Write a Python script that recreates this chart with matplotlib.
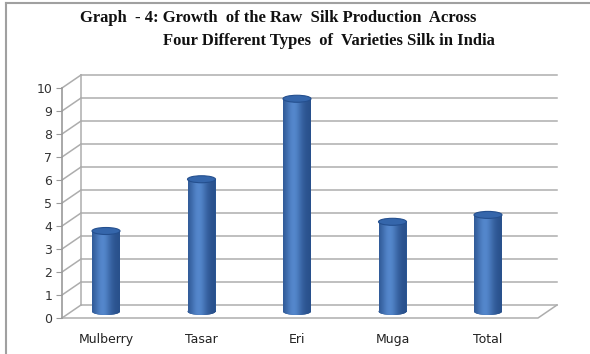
import numpy as np
import matplotlib
matplotlib.use("Agg")
import matplotlib.pyplot as plt
from matplotlib.patches import Ellipse, Polygon
from matplotlib.lines import Line2D

categories = ["Mulberry", "Tasar", "Eri", "Muga", "Total"]
values = [3.5, 5.75, 9.25, 3.9, 4.2]
yticks = list(range(0, 11))

W, H = 590, 354
fig = plt.figure(figsize=(W / 100, H / 100), dpi=100)
fig.patch.set_facecolor("white")

# frame of the picture
fig.add_artist(Line2D([6 / W, 6 / W], [0, 1 - 3 / H], color="#a0a0a0", lw=1.5))
fig.add_artist(Line2D([6 / W, 1], [1 - 3 / H, 1 - 3 / H], color="#a0a0a0", lw=1.5))

# title
tfont = dict(family="Liberation Serif", fontweight="bold", fontsize=12, color="#111111")
fig.text(80 / W, 1 - 18 / H, "Graph  - 4: Growth  of the Raw  Silk Production  Across",
         ha="left", va="center", **tfont)
fig.text(163 / W, 1 - 41 / H, "Four Different Types  of  Varieties Silk in India",
         ha="left", va="center", **tfont)

# axes geometry (pixel based)
px_left, px_right = 62, 562
px_base, px_top = 318, 74
unit_px_y = 23.0
unit_px_x = 95.5
x0 = -(106 - px_left) / unit_px_x
x1 = x0 + (px_right - px_left) / unit_px_x
ytop = (px_base - px_top) / unit_px_y

ax = fig.add_axes([px_left / W, (H - px_base) / H,
                   (px_right - px_left) / W, (px_base - px_top) / H])
ax.set_xlim(x0, x1)
ax.set_ylim(0, ytop)
for s in ["top", "right", "bottom"]:
    ax.spines[s].set_visible(False)
ax.spines["left"].set_color("#9a9a9a")
ax.spines["left"].set_linewidth(1.2)
ax.spines["left"].set_bounds(0, 10)
ax.set_yticks(yticks)
ax.set_yticklabels([str(t) for t in yticks])
ax.tick_params(axis="y", length=4, color="#9a9a9a", labelsize=9, labelcolor="#333333", pad=3)
ax.set_xticks(range(len(categories)))
ax.set_xticklabels(categories)
ax.tick_params(axis="x", length=0, labelsize=9, labelcolor="#222222", pad=11)
ax.patch.set_alpha(0)

# depth offsets
ddx = 19 / unit_px_x
ddy = 13 / unit_px_y
grid_c = "#adadad"
front_right = x0 + (538 - px_left) / unit_px_x
back_left = x0 + ddx
back_right = front_right + ddx

for t in yticks:
    ax.plot([x0, back_left], [t, t + ddy], color=grid_c, lw=1.1, zorder=1, clip_on=False)
    ax.plot([back_left, back_right], [t + ddy, t + ddy], color=grid_c, lw=1.1, zorder=1, clip_on=False)
ax.plot([back_left, back_left], [ddy, 10 + ddy], color=grid_c, lw=1.1, zorder=1)
ax.plot([x0, front_right, back_right], [0, 0, ddy], color=grid_c, lw=1.1, zorder=1, clip_on=False)

# cylinders
bw = 28 / unit_px_x
eh = 7 / unit_px_y
base = ddy / 2
grad = np.linspace(0, 1, 200)
prof = 0.25 + 0.75 * np.exp(-((grad - 0.38) / 0.30) ** 2)
dark = np.array([0.10, 0.24, 0.46])
light = np.array([0.33, 0.53, 0.80])
img = dark[None, :] + (light - dark)[None, :] * prof[:, None]
img = img[None, :, :]

bars = ax.bar(range(len(categories)), values, width=bw, bottom=base,
              color="#2e5d9e", zorder=3, linewidth=0)
for b, v in zip(bars, values):
    xc = b.get_x() + bw / 2
    e_bot = Ellipse((xc, base), bw, eh, zorder=3, facecolor="#1f4a85", edgecolor="none")
    ax.add_patch(e_bot)
    t = np.linspace(np.pi, 2 * np.pi, 40)
    xs = list(xc + bw / 2 * np.cos(t))
    ys = list(base + eh / 2 * np.sin(t))
    poly = Polygon(list(zip(xs, ys)) + [(xc + bw / 2, base + v), (xc - bw / 2, base + v)],
                   closed=True, transform=ax.transData, facecolor="none", edgecolor="none")
    ax.add_patch(poly)
    im = ax.imshow(img, extent=[xc - bw / 2, xc + bw / 2, base - eh / 2, base + v],
                   aspect="auto", zorder=4, interpolation="bilinear")
    im.set_clip_path(poly)
    e_top = Ellipse((xc, base + v), bw, eh, facecolor="#3566ab", edgecolor="#244f8e",
                    lw=0.8, zorder=5)
    ax.add_patch(e_top)

ax.set_xlim(x0, x1)
ax.set_ylim(0, ytop)

fig.savefig("out.png", dpi=100, facecolor="white")
